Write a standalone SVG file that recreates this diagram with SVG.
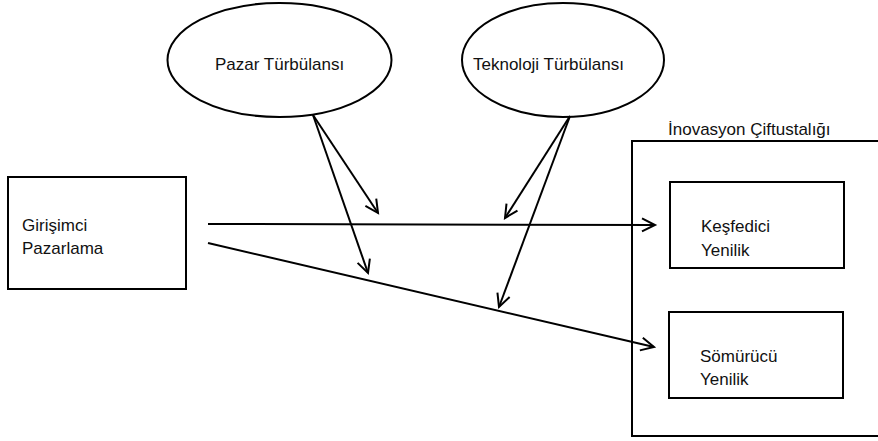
<svg xmlns="http://www.w3.org/2000/svg" width="878" height="441" viewBox="0 0 878 441">
<defs>
<style>
.shape{fill:#fff;stroke:#000;stroke-width:2}
.lbl{font-family:"Liberation Sans",Arial,sans-serif;font-size:17px;fill:#111}
.con{fill:none;stroke:#000;stroke-width:2}
</style>
<marker id="arr" markerUnits="userSpaceOnUse" markerWidth="20" markerHeight="20" viewBox="-16 -10 18 20" refX="0" refY="0" orient="auto">
<path d="M-13,-6.5 L0,0 L-13,6.5" fill="none" stroke="#000" stroke-width="2"/>
</marker>
</defs>
<rect width="878" height="441" fill="#fff"/>
<g id="pazar-turbulansi">
<ellipse class="shape" cx="279.5" cy="60" rx="112" ry="57"/>
<text class="lbl" x="215" y="70">Pazar Türbülansı</text>
</g>
<g id="teknoloji-turbulansi">
<ellipse class="shape" cx="563" cy="60" rx="101" ry="57"/>
<text class="lbl" x="473" y="70">Teknoloji Türbülansı</text>
</g>
<g id="girisimci-pazarlama">
<rect class="shape" x="8" y="177" width="178" height="112"/>
<text class="lbl" x="22" y="231">Girişimci</text>
<text class="lbl" x="22" y="254">Pazarlama</text>
</g>
<g id="inovasyon-ciftustaligi">
<rect class="shape" x="632" y="141" width="260" height="295"/>
<text class="lbl" x="668" y="135">İnovasyon Çiftustalığı</text>
</g>
<g id="kesfedici-yenilik">
<rect class="shape" x="670" y="182" width="174" height="86"/>
<text class="lbl" x="701" y="232">Keşfedici</text>
<text class="lbl" x="701" y="256">Yenilik</text>
</g>
<g id="somurucu-yenilik">
<rect class="shape" x="669" y="312" width="174" height="86"/>
<text class="lbl" x="700" y="362">Sömürücü</text>
<text class="lbl" x="700" y="385">Yenilik</text>
</g>
<g id="connectors">
<line class="con" x1="208" y1="224" x2="655" y2="225" marker-end="url(#arr)"/>
<line class="con" x1="208" y1="243" x2="654" y2="347" marker-end="url(#arr)"/>
<line class="con" x1="313" y1="115" x2="378" y2="213" marker-end="url(#arr)"/>
<line class="con" x1="313" y1="115" x2="368" y2="273" marker-end="url(#arr)"/>
<line class="con" x1="570" y1="116" x2="505" y2="218" marker-end="url(#arr)"/>
<line class="con" x1="570" y1="116" x2="499" y2="307" marker-end="url(#arr)"/>
</g>
</svg>
